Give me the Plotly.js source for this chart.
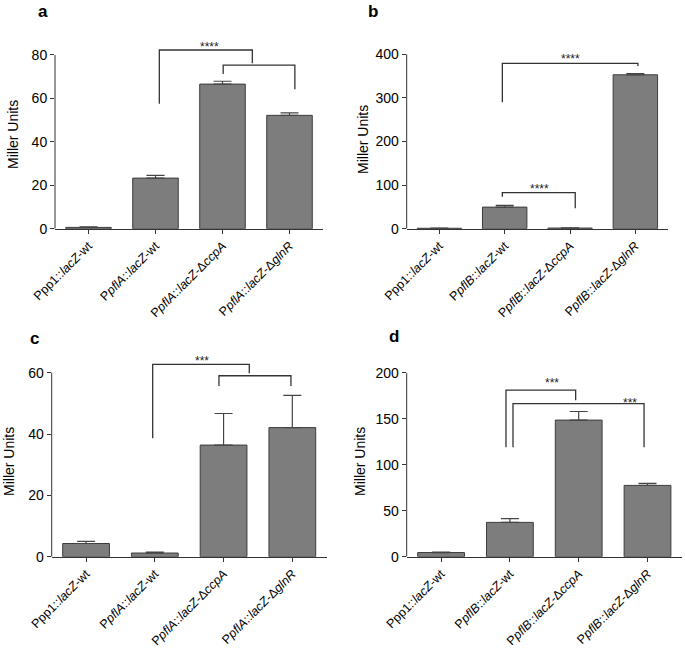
<!DOCTYPE html>
<html>
<head>
<meta charset="utf-8">
<script src="https://cdn.plot.ly/plotly-3.0.1.min.js"></script>
<style>html,body{margin:0;padding:0;background:#fff}#chart{width:685px;height:650px}</style>
</head>
<body>
<div id="chart"></div>
<script>
// ---- data ----
const catsA = ["Ppp1::<i>lacZ</i>-wt", "P<i>pflA</i>::<i>lacZ</i>-wt", "P<i>pflA</i>::<i>lacZ</i>-Δ<i>ccpA</i>", "P<i>pflA</i>::<i>lacZ</i>-Δ<i>glnR</i>"];
const catsB = ["Ppp1::<i>lacZ</i>-wt", "P<i>pflB</i>::<i>lacZ</i>-wt", "P<i>pflB</i>::<i>lacZ</i>-Δ<i>ccpA</i>", "P<i>pflB</i>::<i>lacZ</i>-Δ<i>glnR</i>"];
const valuesA = [0.6, 23.3, 66.6, 52.2];
const errorsA = [0.3, 1.3, 1.3, 1.1];
const valuesB = [1.0, 49.5, 1.5, 353];
const errorsB = [0.5, 4.0, 0.5, 3.0];
const valuesC = [4.3, 1.2, 36.4, 42.1];
const errorsC = [0.7, 0.3, 10.3, 10.5];
const valuesD = [4.5, 37.3, 148.5, 77.5];
const errorsD = [0.6, 4.0, 9.3, 2.2];
const yTicksA = [0, 20, 40, 60, 80];
const yTicksB = [0, 100, 200, 300, 400];
const yTicksC = [0, 20, 40, 60];
const yTicksD = [0, 50, 100, 150, 200];
// significance brackets: [xLeft, xRight, yLeftEnd, yTop, yRightEnd]
const bracketsA = [[1.057, 2.445, 57.5, 82.3, 76.2], [2.01, 3.08, 71.3, 75.3, 64.2]];
const bracketsB = [[0.964, 3.04, 290, 379, 373], [0.964, 2.08, 73, 82.6, 47]];
const bracketsC = [[0.969, 2.374, 38.6, 62.7, 59.8], [1.933, 2.98, 55.7, 59.0, 55.7]];
const bracketsD = [[0.943, 1.956, 119, 181, 170], [1.045, 2.95, 119, 166.3, 119]];
// stars: [x, y, label]
const starsA = [[1.80, 85, "****"]];
const starsB = [[2.0, 396, "****"], [1.53, 98, "****"]];
const starsC = [[1.68, 64.7, "***"]];
const starsD = [[1.61, 192, "***"], [2.75, 170, "***"]];

// ---- layout helpers ----
const W = 685, H = 650;
const FONT = "Liberation Sans, Arial, Helvetica, sans-serif";
const dark = "#333333";
const panels = [
  {id: "", cats: catsA, vals: valuesA, errs: errorsA, ticks: yTicksA, br: bracketsA, st: starsA,
   xd: [55, 323], bottom: 228.7, range: [0, 90], letter: "a", lx: 43, ly: 11, tx: 13, ty: 135},
  {id: "2", cats: catsB, vals: valuesB, errs: errorsB, ticks: yTicksB, br: bracketsB, st: starsB,
   xd: [406.7, 668], bottom: 228.7, range: [0, 410], letter: "b", lx: 373, ly: 11, tx: 363, ty: 140},
  {id: "3", cats: catsA, vals: valuesC, errs: errorsC, ticks: yTicksC, br: bracketsC, st: starsC,
   xd: [51.7, 326.7], bottom: 556.7, range: [0, 66], letter: "c", lx: 34, ly: 338, tx: 9, ty: 462},
  {id: "4", cats: catsB, vals: valuesD, errs: errorsD, ticks: yTicksD, br: bracketsD, st: starsD,
   xd: [406.7, 681.9], bottom: 556.7, range: [0, 200], letter: "d", lx: 394, ly: 336, tx: 360, ty: 462}
];
const ppu = [ (228.7-55)/80, (228.7-54.3)/400, (556.7-372.7)/60, (556.7-372.7)/200 ];

const data = [];
const layout = {
  width: W, height: H, margin: {l: 0, r: 0, t: 0, b: 0},
  paper_bgcolor: "#fff", plot_bgcolor: "rgba(0,0,0,0)",
  showlegend: false, bargap: 0.32,
  font: {family: FONT, color: "#000"},
  shapes: [], annotations: []
};

panels.forEach((p, i) => {
  const xa = "x" + p.id, ya = "y" + p.id;
  const xk = "xaxis" + p.id, yk = "yaxis" + p.id;
  data.push({
    type: "bar", x: p.vals.map((_, k) => k), y: p.vals,
    xaxis: xa, yaxis: ya,
    marker: {color: "#7d7d7d", line: {color: "#3c3c3c", width: 1}},
    error_y: {type: "data", symmetric: false, array: p.errs, arrayminus: p.errs.map(() => 0),
              color: "#444", thickness: 1.2, width: 9},
    hoverinfo: "skip"
  });
  const topPx = p.bottom - p.range[1] * ppu[i];
  layout[xk] = {
    domain: [p.xd[0] / W, p.xd[1] / W], anchor: ya, range: [-0.5, 3.5],
    tickvals: [0, 1, 2, 3], ticktext: p.cats, tickangle: -45,
    ticks: "outside", ticklen: 4, tickcolor: dark, tickwidth: 1,
    showline: true, linecolor: dark, linewidth: 1, showgrid: false, zeroline: false,
    tickfont: {family: FONT, size: 12.5, color: "#000000"}, fixedrange: true
  };
  layout[yk] = {
    domain: [1 - p.bottom / H, 1 - topPx / H], anchor: xa, range: p.range,
    tickvals: p.ticks, ticks: "outside", ticklen: 4, tickcolor: dark, tickwidth: 1,
    showline: false, showgrid: false, zeroline: false,
    tickfont: {family: FONT, size: 14, color: "#000000"}, fixedrange: true
  };
  // y axis line up to the top tick
  layout.shapes.push({type: "line", xref: xa + " domain", yref: ya, x0: 0, x1: 0,
    y0: 0, y1: p.ticks[p.ticks.length - 1], line: {color: dark, width: 1}});
  // brackets
  p.br.forEach(b => {
    layout.shapes.push({type: "path", xref: xa, yref: ya,
      path: `M ${b[0]},${b[2]} L ${b[0]},${b[3]} L ${b[1]},${b[3]} L ${b[1]},${b[4]}`,
      line: {color: dark, width: 1.3}});
  });
  p.st.forEach(s => {
    layout.annotations.push({xref: xa, yref: ya, x: s[0], y: s[1], text: s[2],
      showarrow: false, xanchor: "center", yanchor: "middle", yshift: -3,
      font: {family: FONT, size: 12, color: "#222"}});
  });
  // y title
  layout.annotations.push({xref: "paper", yref: "paper", x: p.tx / W, y: 1 - p.ty / H,
    text: "Miller Units", textangle: -90, showarrow: false, xanchor: "center", yanchor: "middle",
    font: {family: FONT, size: 14, color: "#000"}});
  // panel letter
  layout.annotations.push({xref: "paper", yref: "paper", x: p.lx / W, y: 1 - p.ly / H,
    text: "<b>" + p.letter + "</b>", showarrow: false, xanchor: "center", yanchor: "middle",
    font: {family: FONT, size: 17, color: "#000"}});
});

Plotly.newPlot("chart", data, layout, {displayModeBar: false, staticPlot: true});
</script>
</body>
</html>
